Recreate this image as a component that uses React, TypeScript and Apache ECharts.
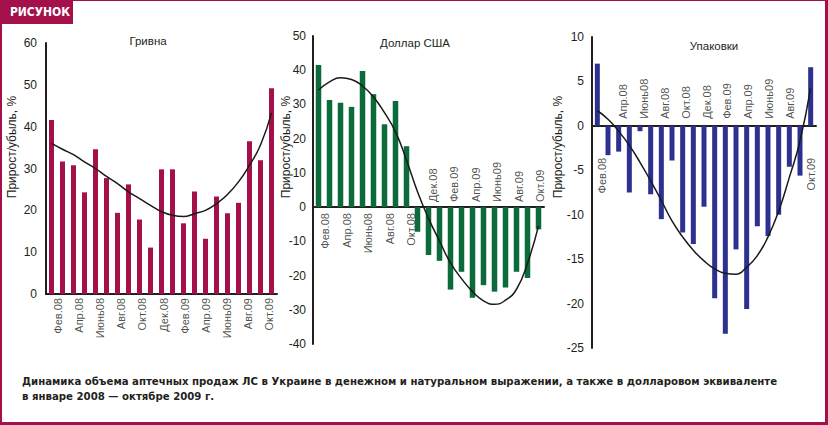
import React, { useEffect, useRef } from "react";
import * as echarts from "echarts";

// ---- Data ----
const months = [
  "Фев.08", "Мар.08", "Апр.08", "Май.08", "Июнь08", "Июль08", "Авг.08",
  "Сен.08", "Окт.08", "Нояб.08", "Дек.08", "Янв.09", "Фев.09", "Мар.09",
  "Апр.09", "Май.09", "Июнь09", "Июль09", "Авг.09", "Сен.09", "Окт.09",
];

const hryvniaValues = [41.6, 31.7, 30.8, 24.3, 34.6, 27.7, 19.4, 26.2, 17.8, 11.1, 29.8, 29.8, 16.9, 24.5, 13.2, 23.3, 19.3, 21.8, 36.5, 32.0, 49.2];
const hryvniaTrend = [36.0, 34.6, 33.3, 31.6, 30.0, 28.1, 26.4, 24.4, 22.8, 21.2, 19.7, 18.8, 18.5, 19.2, 20.0, 21.6, 23.8, 26.8, 30.8, 35.6, 43.3];

const usdValues = [41.5, 31.3, 30.5, 29.3, 39.8, 33.0, 24.2, 31.0, 17.8, -7.2, -14.0, -15.7, -24.1, -18.9, -26.5, -22.8, -24.7, -23.5, -18.9, -20.7, -6.5];
const usdTrend = [34.2, 36.6, 37.8, 37.3, 35.4, 32.2, 27.6, 22.0, 13.7, 4.5, -3.3, -9.9, -16.3, -20.9, -24.7, -27.4, -28.4, -27.2, -24.0, -16.4, -5.5];

const packsValues = [7.0, -3.3, -2.9, -7.5, -0.6, -7.7, -10.5, -3.9, -12.0, -13.3, -9.1, -19.4, -23.4, -13.9, -20.6, -11.3, -12.4, -10.0, -4.6, -5.6, 6.6];
const packsTrend = [1.7, 0.75, -0.6, -2.2, -4.1, -6.2, -8.4, -10.7, -12.5, -14.0, -15.2, -16.1, -16.6, -16.7, -15.9, -14.6, -12.5, -9.6, -5.8, -1.7, 4.3];

const panelTitles = ["Гривна", "Доллар США", "Упаковки"];
const yAxisName = "Прирост/убыль, %";
const badgeText = "РИСУНОК";
const captionLines = [
  "Динамика объема аптечных продаж ЛС в Украине в денежном и натуральном выражении, а также в долларовом эквиваленте",
  "в январе 2008 — октябре 2009 г.",
];

// ---- Styles / layout ----
const CRIMSON = "#A3104A";
const INK = "#231F20";
const AXIS_FONT = "'Liberation Sans', Arial, sans-serif";
const CAPTION_FONT = "'DejaVu Sans Condensed', 'DejaVu Sans', sans-serif";

const panels = [
  {
    values: hryvniaValues, trend: hryvniaTrend, title: panelTitles[0],
    color: "#A3104A", left: 46, top: 43, width: 231, height: 251,
    min: 0, max: 60, interval: 10, barWidth: 5, labelMargin: 9,
    gapBelow: 4, gapAbove: 5, titleX: 148, titleY: 41, nameX: 12,
    shiftStart: 1, shiftEnd: -8,
  },
  {
    values: usdValues, trend: usdTrend, title: panelTitles[1],
    color: "#0B6B3A", left: 313, top: 36, width: 231, height: 308,
    min: -40, max: 50, interval: 10, barWidth: 5.5, labelMargin: 7,
    gapBelow: 6, gapAbove: 5, titleX: 415, titleY: 43, nameX: 286,
    shiftStart: 1, shiftEnd: -4,
  },
  {
    values: packsValues, trend: packsTrend, title: panelTitles[2],
    color: "#2C3190", left: 592, top: 37, width: 224, height: 311,
    min: -25, max: 10, interval: 5, barWidth: 5, labelMargin: 8,
    gapBelow: 32, gapAbove: 7, titleX: 714, titleY: 46, nameX: 558,
    shiftStart: -1, shiftEnd: -5,
  },
];

export default function App() {
  const ref = useRef<HTMLDivElement>(null);

  useEffect(() => {
    if (!ref.current) return;
    const chart = echarts.init(ref.current, undefined, { renderer: "svg" });

    const grid = panels.map((p) => ({ left: p.left, top: p.top, width: p.width, height: p.height, containLabel: false }));
    const xAxis = panels.map((p, i) => ({
      type: "category",
      gridIndex: i,
      data: months,
      boundaryGap: true,
      axisLine: { show: true, onZero: true, lineStyle: { color: INK, width: 2 } },
      axisTick: { show: false },
      axisLabel: { show: false },
      splitLine: { show: false },
    }));
    const yAxis = panels.map((p, i) => ({
      type: "value",
      gridIndex: i,
      min: p.min,
      max: p.max,
      interval: p.interval,
      axisLine: { show: true, lineStyle: { color: INK, width: 2 } },
      axisTick: { show: false },
      splitLine: { show: false },
      axisLabel: { color: INK, fontSize: 12, fontFamily: AXIS_FONT, margin: p.labelMargin },
    }));

    const series: any[] = [];
    const last = months.length - 1;
    panels.forEach((p, i) => {
      series.push({
        type: "bar",
        xAxisIndex: i,
        yAxisIndex: i,
        data: p.values,
        barWidth: p.barWidth,
        itemStyle: { color: p.color },
        z: 2,
      });
      series.push({
        type: "line",
        xAxisIndex: i,
        yAxisIndex: i,
        data: p.trend,
        smooth: true,
        symbol: "none",
        lineStyle: { color: "#1A1A1A", width: 1.5 },
        z: 3,
      });
      const labelData = months
        .map((m, idx) => ({ m, idx }))
        .filter((d) => d.idx % 2 === 0)
        .map(({ m, idx }) => {
          const below = p.values[idx] >= 0;
          const shift = p.shiftStart + ((p.shiftEnd - p.shiftStart) * idx) / last;
          return {
            value: [idx, 0],
            name: m,
            label: below
              ? { position: "bottom", align: "right", verticalAlign: "top", distance: p.gapBelow, offset: [0, shift] }
              : { position: "top", align: "left", verticalAlign: "top", distance: p.gapAbove, offset: [0, shift] },
          };
        });
      series.push({
        type: "scatter",
        xAxisIndex: i,
        yAxisIndex: i,
        data: labelData,
        symbolSize: 0,
        silent: true,
        z: 4,
        label: {
          show: true,
          rotate: 90,
          formatter: (prm: any) => prm.name,
          color: INK,
          fontSize: 11,
          fontFamily: AXIS_FONT,
        },
      });
    });

    const graphic: any[] = [
      // frame
      { type: "rect", shape: { x: 0, y: 0, width: 828, height: 1 }, style: { fill: CRIMSON } },
      { type: "rect", shape: { x: 0, y: 0, width: 2, height: 425 }, style: { fill: CRIMSON } },
      { type: "rect", shape: { x: 825, y: 0, width: 3, height: 425 }, style: { fill: CRIMSON } },
      { type: "rect", shape: { x: 0, y: 422, width: 828, height: 3 }, style: { fill: CRIMSON } },
      { type: "rect", shape: { x: 0, y: 0, width: 73, height: 24 }, style: { fill: CRIMSON } },
      {
        type: "text", x: 40, y: 12,
        style: {
          text: badgeText, fill: "#FFFFFF", align: "center", verticalAlign: "middle",
          font: "bold 12px 'DejaVu Sans Condensed', 'DejaVu Sans', sans-serif",
        },
      },
      ...captionLines.map((t, k) => ({
        type: "text", x: 22, y: 381 + k * 15,
        style: {
          text: t, fill: INK, align: "left", verticalAlign: "middle",
          font: `bold 11.3px ${CAPTION_FONT}`,
        },
      })),
      ...panels.map((p) => ({
        type: "text", x: p.titleX, y: p.titleY,
        style: {
          text: p.title, fill: INK, align: "center", verticalAlign: "middle",
          font: `11.5px ${AXIS_FONT}`,
        },
      })),
      ...panels.map((p) => ({
        type: "text", x: p.nameX, y: 147, rotation: Math.PI / 2,
        style: {
          text: yAxisName, fill: INK, align: "center", verticalAlign: "middle",
          font: `12px ${AXIS_FONT}`,
        },
      })),
    ];

    chart.setOption({
      animation: false,
      backgroundColor: "#FFFFFF",
      grid,
      xAxis,
      yAxis,
      series,
      graphic,
    });

    return () => chart.dispose();
  }, []);

  return (
    <div
      ref={ref}
      style={{ position: "fixed", left: 0, top: 0, width: 828, height: 425, background: "#fff" }}
    />
  );
}
